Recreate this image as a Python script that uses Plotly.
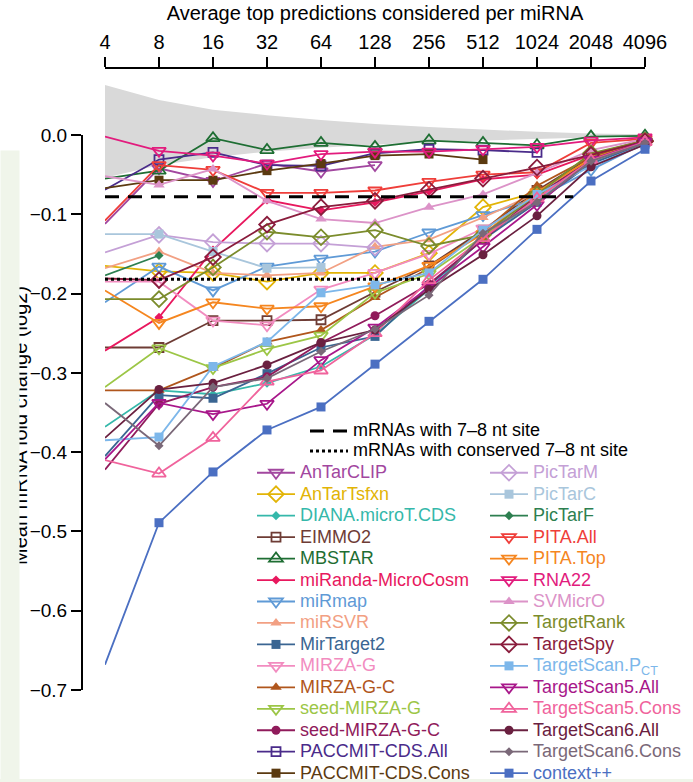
import plotly.graph_objects as go
import math

W, H = 693, 782

# ---------------- data ----------------
COUNTS = [4, 8, 16, 32, 64, 128, 256, 512, 1024, 2048, 4096]
TICK_LABELS = [str(c) for c in COUNTS]

BAND_UPPER = [0.063, 0.044, 0.032, 0.025, 0.019, 0.014, 0.010, 0.007, 0.004, 0.002, 0.001]
BAND_LOWER = [-0.054, -0.038, -0.028, -0.021, -0.016, -0.012, -0.009, -0.007, -0.005, -0.003, -0.002]

SITE_X = [4, 1630]
SITE_Y = [-0.078, -0.078]
CONS_SITE_X = [4, 237]
CONS_SITE_Y = [-0.182, -0.182]

AnTarCLIP = [-0.112, -0.042, -0.058, -0.036, -0.046, -0.038]
AnTarTsfxn = [-0.165, -0.172, -0.174, -0.185, -0.174, -0.174, -0.149, -0.091, -0.072, -0.030, -0.008]
DIANA = [-0.368, -0.322, -0.327, -0.313, -0.292, -0.252, -0.195, -0.130, -0.082, -0.034, -0.010]
EIMMO2 = [-0.268, -0.268, -0.234, -0.234, -0.233, -0.198, -0.165, -0.120, -0.070, -0.028, -0.008]
MBSTAR = [-0.055, -0.045, -0.004, -0.019, -0.010, -0.015, -0.007, -0.010, -0.013, -0.002, -0.001]
miRanda = [-0.272, -0.230, -0.145, -0.082, -0.095, -0.085, -0.071, -0.056, -0.050, -0.025, -0.006]
miRmap = [-0.211, -0.166, -0.196, -0.166, -0.156, -0.147, -0.123, -0.101, -0.080, -0.044, -0.010]
miRSVR = [-0.168, -0.147, -0.174, -0.177, -0.174, -0.141, -0.132, -0.104, -0.073, -0.030, -0.009]
MirTarget2 = [-0.405, -0.328, -0.332, -0.301, -0.268, -0.254, -0.190, -0.132, -0.085, -0.036, -0.011]
MIRZA_G = [-0.185, -0.185, -0.234, -0.240, -0.195, -0.174, -0.150, -0.118, -0.080, -0.033, -0.009]
MIRZA_G_C = [-0.322, -0.322, -0.294, -0.261, -0.246, -0.205, -0.168, -0.122, -0.064, -0.028, -0.007]
seed_MIRZA_G = [-0.318, -0.269, -0.294, -0.270, -0.253, -0.199, -0.175, -0.128, -0.078, -0.030, -0.008]
seed_MIRZA_G_C = [-0.422, -0.339, -0.318, -0.305, -0.262, -0.228, -0.188, -0.132, -0.076, -0.032, -0.009]
PACCMIT_All = [-0.069, -0.031, -0.022, -0.038, -0.039, -0.023, -0.018, -0.019, -0.022]
PACCMIT_Cons = [-0.067, -0.057, -0.057, -0.045, -0.036, -0.026, -0.024, -0.031]
PicTarM = [-0.148, -0.126, -0.135, -0.137, -0.137, -0.142]
PicTarC = [-0.125, -0.125, -0.147, -0.168, -0.167]
PicTarF = [-0.177, -0.152]
PITA_All = [-0.108, -0.038, -0.044, -0.073, -0.073, -0.070, -0.059, -0.050, -0.047, -0.010, -0.005]
PITA_Top = [-0.196, -0.237, -0.211, -0.219, -0.216, -0.191, -0.165, -0.125, -0.072, -0.030, -0.008]
RNA22 = [-0.002, -0.020, -0.026, -0.036, -0.024, -0.021, -0.021, -0.018, -0.015, -0.007, -0.003]
SVMicrO = [-0.052, -0.063, -0.043, -0.083, -0.106, -0.111, -0.091, -0.075, -0.048, -0.019, -0.005]
TargetRank = [-0.207, -0.207, -0.167, -0.122, -0.129, -0.120, -0.140, -0.126, -0.075, -0.023, -0.007]
TargetSpy = [-0.181, -0.183, -0.154, -0.113, -0.091, -0.083, -0.069, -0.055, -0.041, -0.025, -0.008]
TS_PCT = [-0.385, -0.381, -0.292, -0.261, -0.199, -0.189, -0.174, -0.120, -0.075, -0.039, -0.012]
TS5_All = [-0.409, -0.338, -0.352, -0.339, -0.284, -0.243, -0.192, -0.141, -0.088, -0.031, -0.008]
TS5_Cons = [-0.410, -0.427, -0.382, -0.311, -0.297, -0.250, -0.183, -0.130, -0.080, -0.032, -0.009]
TS6_All = [-0.382, -0.321, -0.313, -0.290, -0.262, -0.246, -0.195, -0.151, -0.102, -0.040, -0.012]
TS6_Cons = [-0.338, -0.392, -0.318, -0.307, -0.273, -0.245, -0.202, -0.124, -0.085, -0.033, -0.010]
context_pp = [-0.668, -0.489, -0.425, -0.372, -0.343, -0.289, -0.235, -0.182, -0.119, -0.058, -0.018]

# (label, values, colour, marker kind, legend column)
SERIES = [
    ("AnTarCLIP", AnTarCLIP, "#a2479f", "tdo", 1),
    ("AnTarTsfxn", AnTarTsfxn, "#e2b406", "dio", 1),
    ("DIANA.microT.CDS", DIANA, "#35b8aa", "dis", 1),
    ("EIMMO2", EIMMO2, "#6e3c35", "sqo", 1),
    ("MBSTAR", MBSTAR, "#1e6e33", "tuo", 1),
    ("miRanda-MicroCosm", miRanda, "#e8185e", "dis", 1),
    ("miRmap", miRmap, "#5f9ad6", "tdo", 1),
    ("miRSVR", miRSVR, "#f2a083", "tuf", 1),
    ("MirTarget2", MirTarget2, "#3a6592", "sqf", 1),
    ("MIRZA-G", MIRZA_G, "#f28cc0", "tdo", 1),
    ("MIRZA-G-C", MIRZA_G_C, "#b0561c", "tuf", 1),
    ("seed-MIRZA-G", seed_MIRZA_G, "#9cc646", "tdo", 1),
    ("seed-MIRZA-G-C", seed_MIRZA_G_C, "#901b5b", "cif", 1),
    ("PACCMIT-CDS.All", PACCMIT_All, "#4a2b8a", "sqo", 1),
    ("PACCMIT-CDS.Cons", PACCMIT_Cons, "#5b3a10", "sqf", 1),
    ("PicTarM", PicTarM, "#c4a0d6", "dio", 2),
    ("PicTarC", PicTarC, "#a9c6dc", "sqf", 2),
    ("PicTarF", PicTarF, "#2d7f50", "dis", 2),
    ("PITA.All", PITA_All, "#ef3e3a", "tdo", 2),
    ("PITA.Top", PITA_Top, "#f5861f", "tdo", 2),
    ("RNA22", RNA22, "#e21b7d", "tdo", 2),
    ("SVMicrO", SVMicrO, "#dc93c8", "tuf", 2),
    ("TargetRank", TargetRank, "#7b8c2c", "dio", 2),
    ("TargetSpy", TargetSpy, "#8a1c3c", "dio", 2),
    ("TargetScan.P<sub>CT</sub>", TS_PCT, "#7db7ea", "sqf", 2),
    ("TargetScan5.All", TS5_All, "#a8178a", "tdo", 2),
    ("TargetScan5.Cons", TS5_Cons, "#f0639c", "tuo", 2),
    ("TargetScan6.All", TS6_All, "#6a2040", "cif", 2),
    ("TargetScan6.Cons", TS6_Cons, "#7a6878", "dis", 2),
    ("context++", context_pp, "#4b6fc2", "sqf", 2),
]

MARKERS = {
    "tdo": ("triangle-down-open", 12),
    "tuo": ("triangle-up-open", 12),
    "dio": ("diamond-open", 12),
    "sqo": ("square-open", 9),
    "dis": ("diamond", 7),
    "tuf": ("triangle-up", 10),
    "sqf": ("square", 9),
    "cif": ("circle", 9),
}

# ---------------- geometry helpers ----------------
def fx(px):
    return px / W

def fy(py):
    return 1 - py / H

Y0_PX = 135.0
PPU = 555.0 / 0.7  # pixels per unit on y
DATA_TOP_PX, DATA_BOT_PX = 70.0, 705.0
data_range = [(Y0_PX - DATA_BOT_PX) / PPU, (Y0_PX - DATA_TOP_PX) / PPU]

FONT = "Liberation Sans, Arial, sans-serif"

fig = go.Figure()

# grey band
fig.add_trace(go.Scatter(x=COUNTS, y=BAND_LOWER, mode="lines", line=dict(width=0, color="#d9d9d9"),
                         showlegend=False, hoverinfo="skip"))
fig.add_trace(go.Scatter(x=COUNTS, y=BAND_UPPER, mode="lines", line=dict(width=0, color="#d9d9d9"),
                         fill="tonexty", fillcolor="#d9d9d9", showlegend=False, hoverinfo="skip"))

for label, vals, col, kind, column in SERIES:
    sym, size = MARKERS[kind]
    marker = dict(symbol=sym, size=size, color=col)
    if sym.endswith("open"):
        marker["line"] = dict(width=1.8, color=col)
    else:
        marker["line"] = dict(width=0)
    fig.add_trace(go.Scatter(
        x=COUNTS[:len(vals)], y=vals, mode="lines+markers",
        line=dict(color=col, width=1.8), marker=marker,
        name=f'<span style="font-size:18px;color:{col}">{label}</span>',
        legend="legend" if column == 1 else "legend2",
        cliponaxis=False,
    ))

fig.add_trace(go.Scatter(x=SITE_X, y=SITE_Y, mode="lines",
                         line=dict(color="black", width=3, dash="14px,9px"),
                         name='<span style="font-size:18px">mRNAs with 7–8 nt site</span>',
                         legend="legend3"))
fig.add_trace(go.Scatter(x=CONS_SITE_X, y=CONS_SITE_Y, mode="lines",
                         line=dict(color="black", width=3, dash="dot"),
                         name='<span style="font-size:18px">mRNAs with conserved 7–8 nt site</span>',
                         legend="legend3"))

# dummy trace to host the visible y axis
fig.add_trace(go.Scatter(x=[None], y=[None], xaxis="x", yaxis="y2", showlegend=False,
                         hoverinfo="skip"))

legend_common = dict(bgcolor="rgba(0,0,0,0)", borderwidth=0, xanchor="left", yanchor="top",
                     itemclick=False, itemdoubleclick=False, traceorder="normal",
                     itemwidth=38)

fig.update_layout(
    width=W, height=H,
    margin=dict(l=0, r=0, t=0, b=0, autoexpand=False),
    paper_bgcolor="white", plot_bgcolor="rgba(0,0,0,0)",
    font=dict(family=FONT, color="black", size=18),
    xaxis=dict(
        type="log", range=[math.log10(COUNTS[0]), math.log10(COUNTS[-1])],
        domain=[fx(105), fx(645)], side="top", anchor="free", position=fy(68),
        tickvals=COUNTS, ticktext=TICK_LABELS, ticks="outside", ticklen=10, tickwidth=2,
        tickcolor="black", showline=True, linewidth=2, linecolor="black",
        showgrid=False, zeroline=False, tickfont=dict(size=20), automargin=False,
        title=dict(text="Average top predictions considered per miRNA", font=dict(size=20), standoff=4),
    ),
    yaxis=dict(domain=[fy(DATA_BOT_PX), fy(DATA_TOP_PX)], range=data_range, visible=False,
               showgrid=False, zeroline=False),
    yaxis2=dict(domain=[fy(690), fy(135)], range=[-0.7, 0], anchor="free", position=fx(82),
                side="left", tickmode="linear", tick0=0, dtick=0.1, tickformat=".1f",
                ticks="outside", ticklen=10, tickwidth=2, tickcolor="black", automargin=False,
                showline=True, linewidth=2, linecolor="black", showgrid=False, zeroline=False,
                tickfont=dict(size=19)),
    legend=dict(x=fx(252), y=fy(457), font=dict(size=14.2, family=FONT), **legend_common),
    legend2=dict(x=fx(485), y=fy(457), font=dict(size=14.2, family=FONT), **legend_common),
    legend3=dict(x=fx(305), y=fy(416), font=dict(size=13.1, family=FONT), **legend_common),
    showlegend=True,
)

# y-axis title (cropped at the left edge in the reference)
fig.add_annotation(text="Mean mRNA fold change (log2)", xref="paper", yref="paper",
                   x=fx(20), y=fy(426), xanchor="center", yanchor="middle", textangle=-90,
                   showarrow=False, font=dict(size=20, family=FONT, color="black"))
# pale page strip covering the cropped part
fig.add_annotation(text=" ", xref="paper", yref="paper", x=0, y=fy(150), xanchor="left",
                   yanchor="top", width=18, height=H - 150, bgcolor="#f0f5ea", borderpad=0,
                   showarrow=False)
fig.add_shape(type="rect", xref="paper", yref="paper", x0=0, x1=1, y0=0, y1=fy(779),
              fillcolor="#f0f5ea", line=dict(width=0), layer="below")

fig.write_html("out.html")
